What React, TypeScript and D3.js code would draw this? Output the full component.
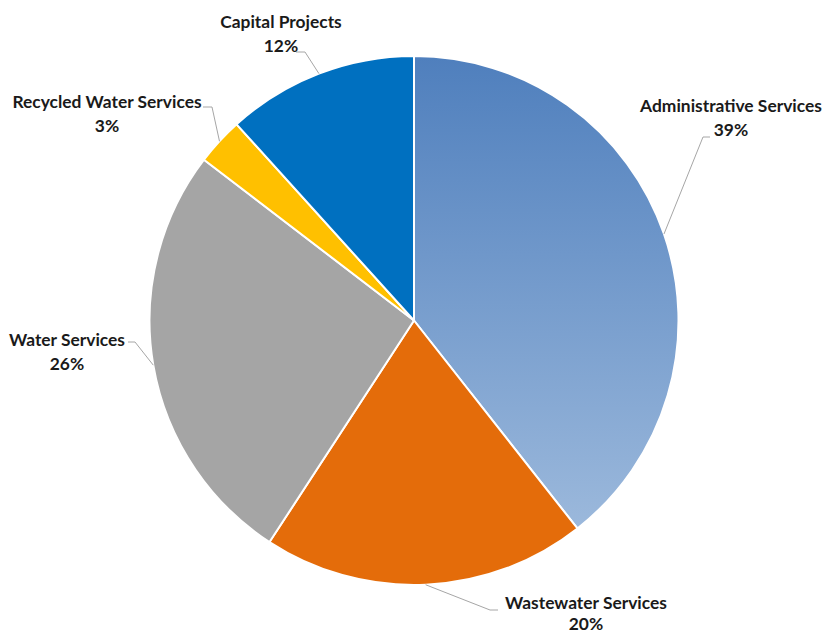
import React from "react";
import * as d3 from "d3";

const categories = ["Administrative Services", "Wastewater Services", "Water Services", "Recycled Water Services", "Capital Projects"];
const values = [39.4, 19.8, 26.2, 2.9, 11.7];
const percentLabels = ["39%", "20%", "26%", "3%", "12%"];
const colors = ["url(#adminGrad)", "#e46c0a", "#a5a5a5", "#ffc000", "#0070c0"];

// label anchor (center of text block, line1 baseline), line gap and leader line points
const labelPos = [
  { x: 731, y: 112, gap: 24, line: [[710, 137], [703, 137]] },
  { x: 586, y: 609, gap: 21, line: [[498, 610], [490, 610]] },
  { x: 67, y: 346, gap: 24, line: [[128, 342], [135, 342]] },
  { x: 107, y: 108, gap: 24, line: [[203, 107], [212, 107]] },
  { x: 281, y: 28, gap: 24, line: [[296, 52], [305, 52]] },
];

export default function App() {
  const W = 823, H = 636;
  const cx = 414, cy = 320.5, r = 264.5;
  const pie = d3.pie<number>().sort(null).value((d) => d)(values);
  const arc = d3.arc<d3.PieArcDatum<number>>().innerRadius(0).outerRadius(r);
  const edge = d3.arc<d3.PieArcDatum<number>>().innerRadius(r).outerRadius(r);
  const font = { fontFamily: "Lato", fontWeight: 700, fontSize: 17.4, fill: "#1a1a1a" } as const;

  return (
    <svg width={W} height={H} style={{ position: "absolute", left: 0, top: 0, background: "#fff" }}>
      <defs>
        <linearGradient id="adminGrad" gradientUnits="userSpaceOnUse" x1="0" y1={-r} x2="0" y2={r * 0.8}>
          <stop offset="0" stopColor="#4f7fbd" />
          <stop offset="1" stopColor="#9cb9dc" />
        </linearGradient>
      </defs>
      <g transform={`translate(${cx},${cy})`}>
        {pie.map((p, i) => (
          <path key={i} d={arc(p) || ""} fill={colors[i]} stroke="#fff" strokeWidth={2} strokeLinejoin="round" />
        ))}
      </g>
      {pie.map((p, i) => {
        const [ex, ey] = edge.centroid(p);
        const L = labelPos[i];
        const pts = [...L.line, [cx + ex, cy + ey]];
        return (
          <g key={i}>
            <polyline points={pts.map((q) => q.join(",")).join(" ")} fill="none" stroke="#a6a6a6" strokeWidth={1} />
            <text x={L.x} y={L.y} textAnchor="middle" {...font}>
              {categories[i]}
            </text>
            <text x={L.x} y={L.y + L.gap} textAnchor="middle" {...font}>
              {percentLabels[i]}
            </text>
          </g>
        );
      })}
    </svg>
  );
}
